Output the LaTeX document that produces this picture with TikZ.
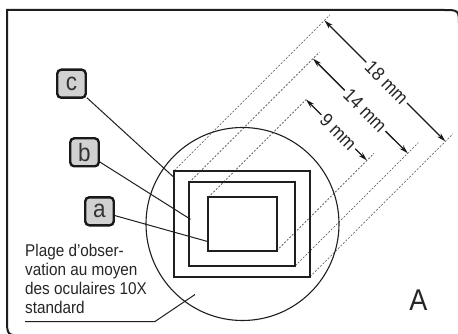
\documentclass[tikz,border=0pt]{standalone}
\usepackage{fontspec}
\setmainfont{Liberation Sans}[FakeStretch=0.9]
\usetikzlibrary{arrows.meta}
\begin{document}
\begin{tikzpicture}[x=1pt,y=-1pt,
  frameline/.style={line width=2pt, draw=black!88},
  rectline/.style={line width=2pt, draw=black!88},
  extline/.style={line width=0.6pt, draw=black!70, dash pattern=on 2pt off 1.6pt},
  dimline/.style={line width=1.4pt, draw=black!90, {Stealth[length=9pt,width=5pt]}-{Stealth[length=9pt,width=5pt]}},
  dimlabel/.style={sloped, fill=white, inner sep=2.5pt, text=black!85, font=\fontsize{19}{19}\selectfont},
  leadline/.style={line width=1pt, draw=black!88},
  lbl/.style={rounded corners=4pt, draw=black!90, line width=2.4pt, fill=black!18, minimum width=28.5pt, minimum height=28pt, inner sep=0pt, text=black!80, font=\fontsize{25}{25}\selectfont},
  txt/.style={anchor=base west, inner sep=0pt, text=black!85, font=\fontsize{17}{19}\selectfont}
]
\useasboundingbox (0,0) rectangle (458,334);
\clip (0,0) rectangle (458,334);
\fill[white] (0,0) rectangle (458,334);

% frame
\draw[frameline] (7,10) -- (443,10) .. controls (459,10) .. (459,26) -- (459,335.5) -- (24,335.5) .. controls (7,335.5) .. (7,318) -- cycle;

% rectangle corners
\coordinate (oTL) at (174,170.7);   \coordinate (oBR) at (310,276.7);
\coordinate (mTL) at (189.3,182.3); \coordinate (mBR) at (295.3,265.7);
\coordinate (iTL) at (208.3,197.3); \coordinate (iBR) at (276.7,250.7);

% extension line ends
\coordinate (oTLe) at (330,14.7);   \coordinate (oBRe) at (453,133.7);
\coordinate (mTLe) at (319.3,52.3); \coordinate (mBRe) at (418.3,142.7);
\coordinate (iTLe) at (306,99.6);   \coordinate (iBRe) at (374,153.4);

\draw[extline] (oTL) -- (oTLe);
\draw[extline] (oBR) -- (oBRe);
\draw[extline] (mTL) -- (mTLe);
\draw[extline] (mBR) -- (mBRe);
\draw[extline] (iTL) -- (iTLe);
\draw[extline] (iBR) -- (iBRe);

% circle
\draw[line width=1.1pt, draw=black!88] (242.5,224) circle[radius=96.5];

% rectangles
\draw[rectline] (oTL) rectangle (oBR);
\draw[rectline] (mTL) rectangle (mBR);
\draw[rectline] (iTL) rectangle (iBR);

% dimension arrows
\coordinate (d18a) at (324.4,20.4);  \coordinate (d18b) at (445.4,141.4);
\coordinate (d14a) at (313,58.6);    \coordinate (d14b) at (407.8,153.3);
\coordinate (d9a)  at (306,99.5);    \coordinate (d9b)  at (367,160.5);
\draw[dimline] (d18a) -- node[dimlabel, pos=0.515] (l18) {18 mm} (d18b);
\draw[dimline] (d14a) -- node[dimlabel, pos=0.55] (l14) {14 mm} (d14b);
\draw[dimline] (d9a) -- node[dimlabel, pos=0.53] (l9) {9 mm} (d9b);

% label boxes
\node[lbl] (c) at (71.5,83.7) {c};
\node[lbl] (b) at (84.5,152.3) {b};
\node[lbl] (a) at (99.5,211.3) {a};
\coordinate (ce) at (173,176.5);
\coordinate (be) at (190.5,219.3);
\coordinate (ae) at (208.3,241.7);
\draw[leadline] (c) -- (ce);
\draw[leadline] (b) -- (be);
\draw[leadline] (a) -- (ae);

% text
\node[txt] (t1) at (25,256) {Plage d’obser-};
\node[txt] (t2) at (25,275) {vation au moyen};
\node[txt] (t3) at (25,294) {des oculaires 10X};
\node[txt] (t4) at (25,313) {standard};
\coordinate (u1) at (25,321.5);
\coordinate (u2) at (155,321.5);
\coordinate (u3) at (195,294.5);
\draw[leadline] (u1) -- (u2) -- (u3);

\node[anchor=base, inner sep=0pt, text=black!85, font=\fontsize{30}{30}\selectfont] (A) at (418.3,310.3) {A};
\end{tikzpicture}
\end{document}
